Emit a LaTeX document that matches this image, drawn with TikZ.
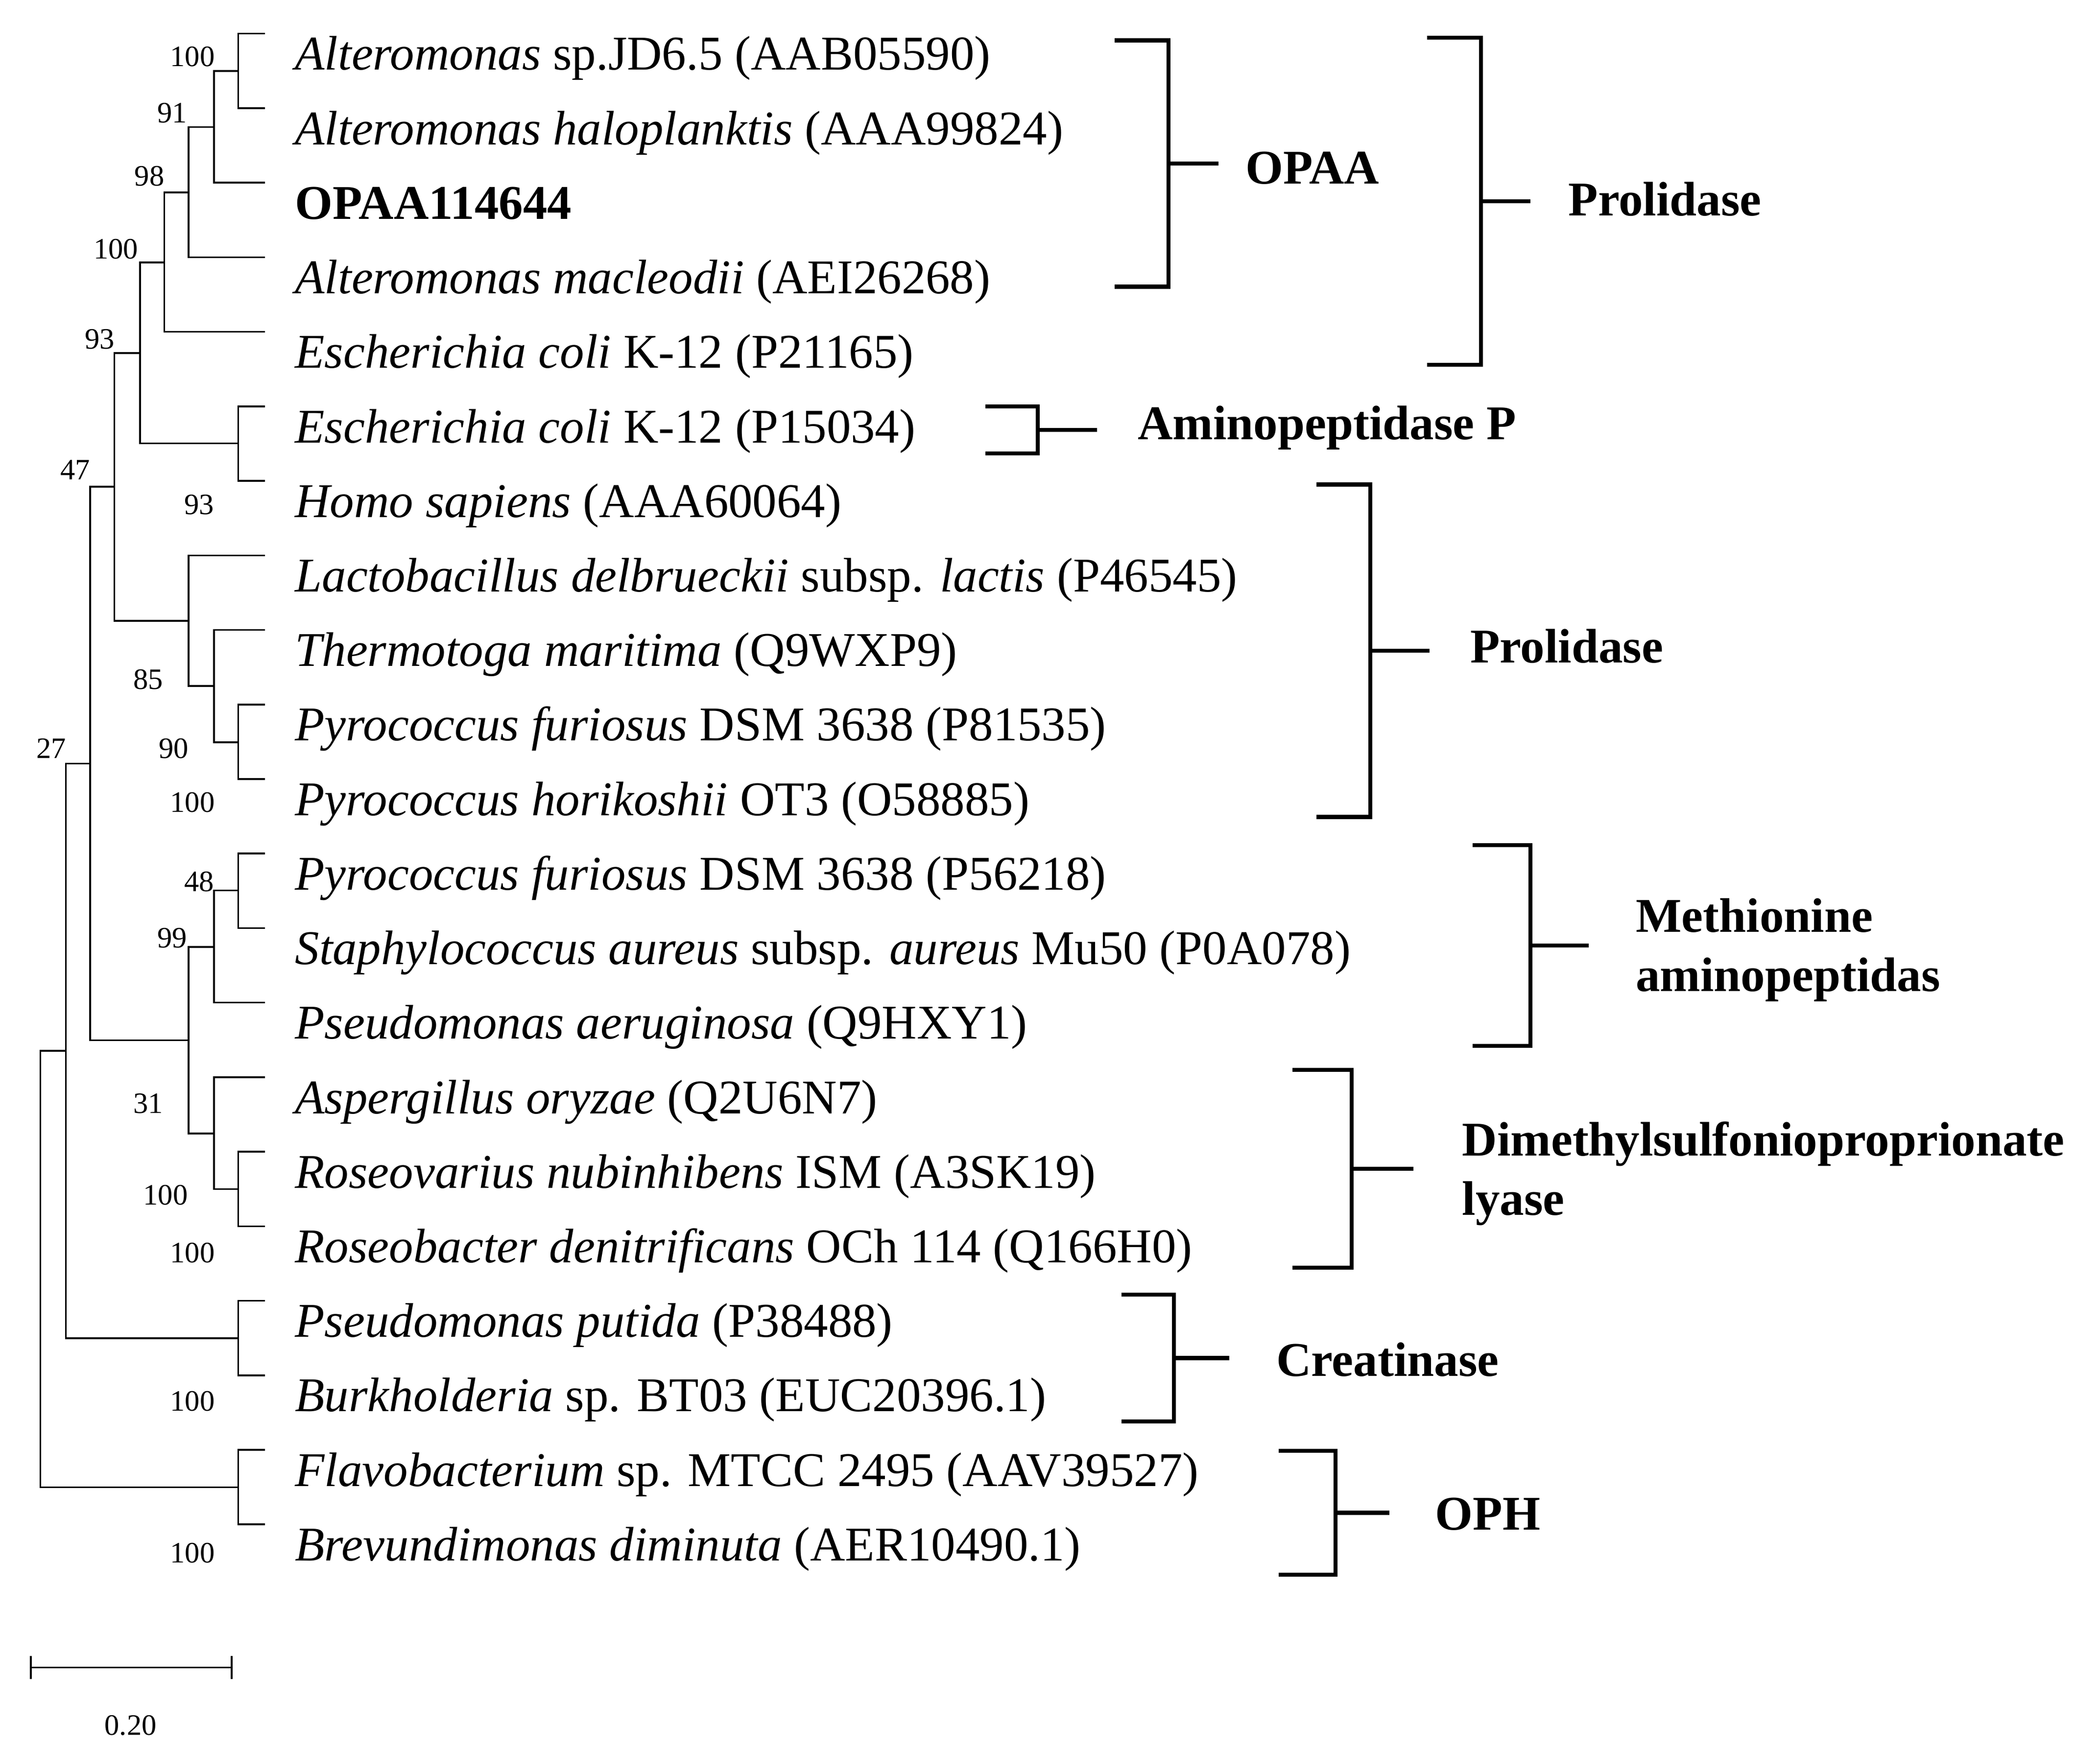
\documentclass[tikz,border=0pt]{standalone}
\usepackage{fontspec}
\setmainfont{Liberation Serif}
\usetikzlibrary{calc}
\begin{document}
\begin{tikzpicture}[x=1pt,y=-1pt,
  br/.style={line width=1.3pt,line cap=rect},
  grp/.style={line width=3pt},
  leaf/.style={anchor=base west,inner sep=0pt,font=\fontsize{36}{40}\selectfont},
  bs/.style={anchor=center,inner sep=0pt,font=\fontsize{22}{24}\selectfont},
  glab/.style={anchor=west,inner sep=0pt,font=\fontsize{36}{40}\selectfont\bfseries,align=left}]
\useasboundingbox (0,0) rectangle (1560,1300);
% leaves
\foreach \i in {0,...,20}{\coordinate (L\i) at (196,{25+55.38*\i});}
\foreach \i/\t in {
0/{\textit{Alteromonas} sp.JD6.5 (AAB05590)},
1/{\textit{Alteromonas haloplanktis} (AAA99824)},
2/{\textbf{OPAA114644}},
3/{\textit{Alteromonas macleodii} (AEI26268)},
4/{\textit{Escherichia coli} K-12 (P21165)},
5/{\textit{Escherichia coli} K-12 (P15034)},
6/{\textit{Homo sapiens} (AAA60064)},
7/{\textit{Lactobacillus delbrueckii} subsp. \textit{lactis} (P46545)},
8/{\textit{Thermotoga maritima} (Q9WXP9)},
9/{\textit{Pyrococcus furiosus} DSM 3638 (P81535)},
10/{\textit{Pyrococcus horikoshii} OT3 (O58885)},
11/{\textit{Pyrococcus furiosus} DSM 3638 (P56218)},
12/{\textit{Staphylococcus aureus} subsp. \textit{aureus} Mu50 (P0A078)},
13/{\textit{Pseudomonas aeruginosa} (Q9HXY1)},
14/{\textit{Aspergillus oryzae} (Q2U6N7)},
15/{\textit{Roseovarius nubinhibens} ISM (A3SK19)},
16/{\textit{Roseobacter denitrificans} OCh 114 (Q166H0)},
17/{\textit{Pseudomonas putida} (P38488)},
18/{\textit{Burkholderia} sp. BT03 (EUC20396.1)},
19/{\textit{Flavobacterium} sp. MTCC 2495 (AAV39527)},
20/{\textit{Brevundimonas diminuta} (AER10490.1)}}
{\node[leaf] (t\i) at (219,{25+55.38*\i+27}) {\t};}
% internal nodes
\coordinate (n1) at (177,52.7);
\coordinate (n2) at (159,94.4);
\coordinate (n3) at (140,143.0);
\coordinate (n4) at (122,195.0);
\coordinate (n6) at (177,329.4);
\coordinate (n5) at (104,262.2);
\coordinate (n10) at (177,551.5);
\coordinate (n9) at (159,509.6);
\coordinate (n8) at (140,461.2);
\coordinate (n7) at (85,361.7);
\coordinate (n16) at (177,661.5);
\coordinate (n14) at (159,703.5);
\coordinate (n17) at (177,883.5);
\coordinate (n15) at (159,842.3);
\coordinate (n13) at (140,772.9);
\coordinate (nX) at (67,567.3);
\coordinate (n18) at (177,994.3);
\coordinate (nY) at (49,780.8);
\coordinate (n19) at (177,1105.1);
\coordinate (root) at (30,942.9);
\foreach \p/\a/\b in {n1/L0/L1,n2/n1/L2,n3/n2/L3,n4/n3/L4,n6/L5/L6,n5/n4/n6,
  n10/L9/L10,n9/L8/n10,n8/L7/n9,n7/n5/n8,n16/L11/L12,n14/n16/L13,n17/L15/L16,
  n15/L14/n17,n13/n14/n15,nX/n7/n13,n18/L17/L18,nY/nX/n18,n19/L19/L20,root/nY/n19}
  {\draw[br] (\a) -| (\p) |- (\b);}
% bootstrap values
\foreach \x/\y/\v/\n in {143/42/100/a,128/84/91/b,111/131/98/c,86/185/100/d,74/252/93/e,
  56/349/47/f,148/375/93/g,110/505/85/h,38/556/27/i,129/556/90/j,143/596/100/k,
  148/655/48/l,128/697/99/m,110/820/31/n,123/888/100/o,143/931/100/p,143/1041/100/q,143/1154/100/r}
  {\node[bs] (b\n) at (\x,\y) {\v};}
% scale bar
\coordinate (s1) at (23,1239); \coordinate (s2) at (172,1239);
\draw[br] (s1) -- (s2);
\draw[br] ($(s1)+(0,-8)$) -- ($(s1)+(0,8)$);
\draw[br] ($(s2)+(0,-8)$) -- ($(s2)+(0,8)$);
\node[bs] (sl) at (97,1282) {0.20};
% group brackets
\foreach \n/\xl/\x/\ya/\yb/\xm in {
  g1/828/868/30/213/905, g2/1060/1100/28/271/1137, g3/732/771/302/337/815,
  g4/978/1018/360/607/1062, g5/1094/1137/628/777/1180, g6/960/1004/795/942/1050,
  g7/833/872/962/1056/913, g8/950/992/1078/1170/1032}
{\coordinate (\n t) at (\xl,\ya); \coordinate (\n b) at (\xl,\yb);
 \coordinate (\n m) at (\xm,{(\ya+\yb)/2});
 \draw[grp] (\n t) -- (\x,\ya) -- (\x,\yb) -- (\n b);
 \draw[grp] (\x,{(\ya+\yb)/2}) -- (\n m);}
\node[glab] (l1) at (925,125) {OPAA};
\node[glab] (l2) at (1165,148) {Prolidase};
\node[glab] (l3) at (845,318) {Aminopeptidase P};
\node[glab] (l4) at (1092,480) {Prolidase};
\node[glab] (l5) at (1215,706) {Methionine\\[4pt]aminopeptidas};
\node[glab] (l6) at (1086,872) {Dimethylsulfonioproprionate\\[4pt]lyase};
\node[glab] (l7) at (948,1010) {Creatinase};
\node[glab] (l8) at (1066,1125) {OPH};
\end{tikzpicture}
\end{document}
